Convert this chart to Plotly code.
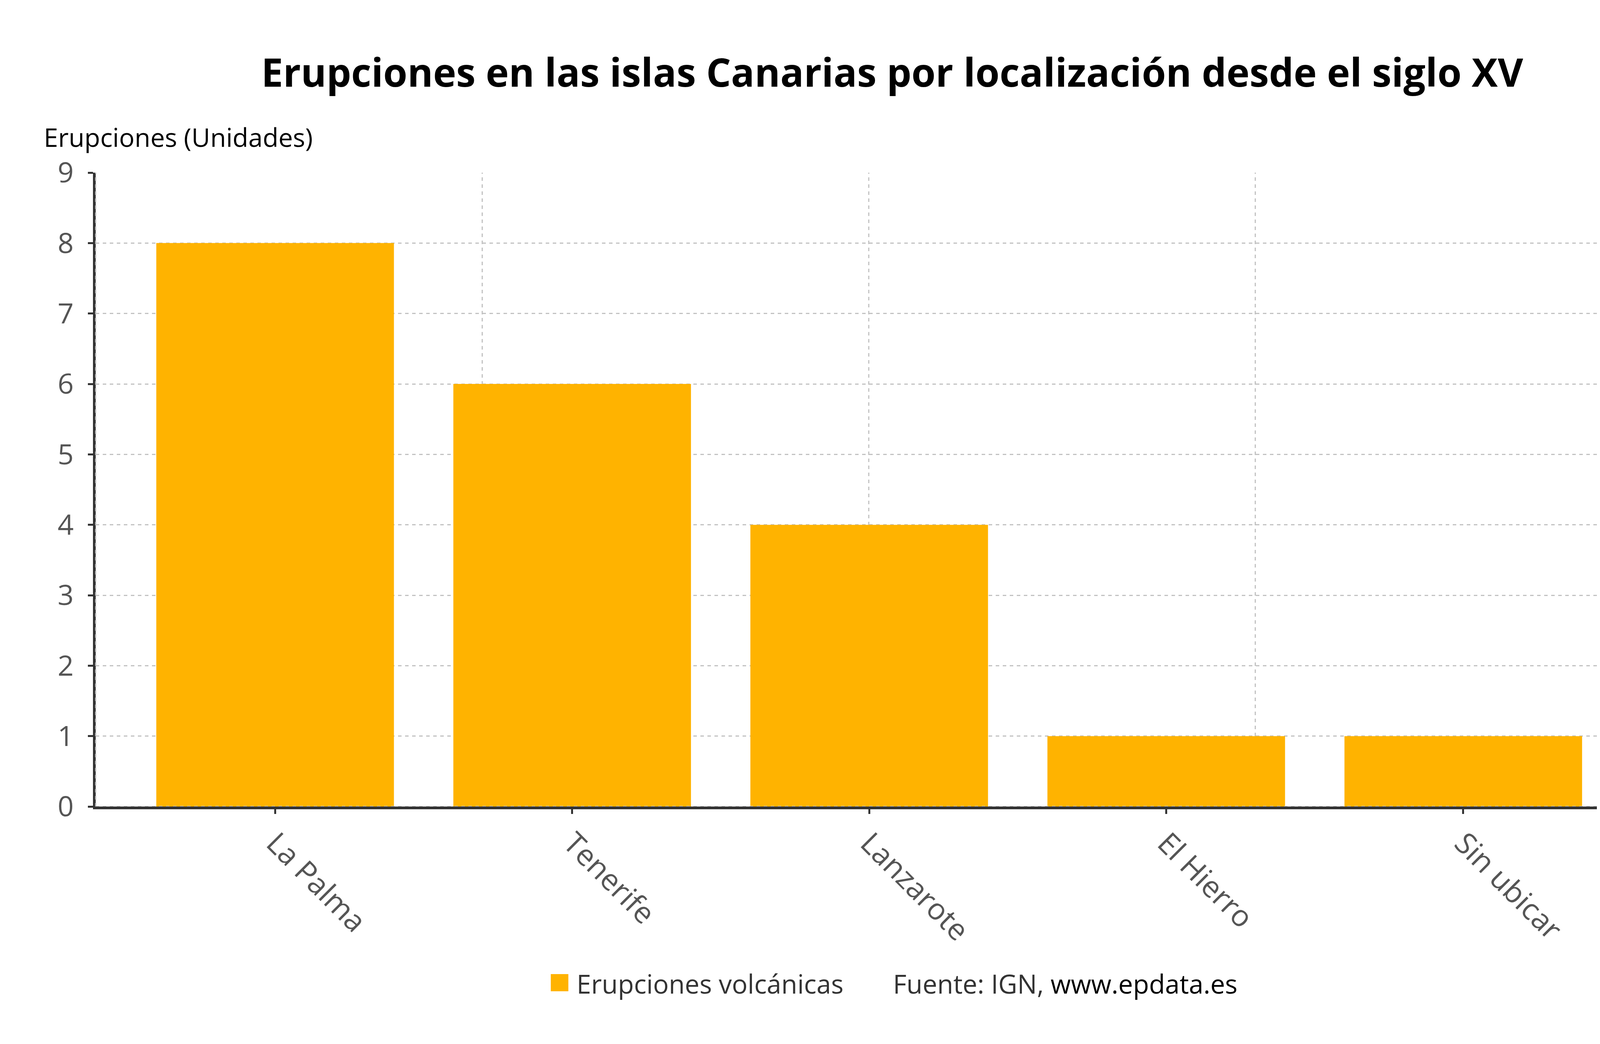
import plotly.graph_objects as go

# datos
islas = ["La Palma", "Tenerife", "Lanzarote", "El Hierro", "Sin ubicar"]
erupciones = [8, 6, 4, 1, 1]
y_ticks = [0, 1, 2, 3, 4, 5, 6, 7, 8, 9]

titulo = "Erupciones en las islas Canarias por localización desde el siglo XV"
titulo_y = "Erupciones (Unidades)"
serie = "Erupciones volcánicas"
fuente = "Fuente: IGN, "
web = "www.epdata.es"

W, H = 4552, 2673
L, R, T, B = 237, 357, 434, 616
FONT = "Open Sans"
NARANJA = "#FFB300"
GRIS = "#c2c2c2"
DASH = "9px,9px"


def px_x(x):
    return (x - L) / (W - L - R)


def px_y(y):
    return (H - B - y) / (H - T - B)


fig = go.Figure()
fig.add_trace(go.Bar(
    x=islas, y=erupciones, name=serie,
    marker=dict(color=NARANJA, line=dict(width=0)),
    showlegend=False,
))

# grid vertical: cuartos del area de dibujo, como en el original
for f in [0.0, 0.25, 0.5, 0.75, 1.0]:
    fig.add_shape(type="line", xref="x domain", yref="y domain",
                  x0=f, x1=f, y0=0, y1=1, layer="above" if f == 0 else "below",
                  line=dict(color=GRIS, width=3, dash=DASH))
fig.add_shape(type="line", xref="x domain", yref="y", x0=0, x1=1, y0=0, y1=0,
              layer="above", line=dict(color=GRIS, width=3, dash=DASH))

# leyenda a mano (el cuadro de plotly es demasiado pequeño)
fig.add_shape(type="rect", xref="paper", yref="paper",
              x0=px_x(1402), x1=px_x(1447), y0=px_y(2530), y1=px_y(2486),
              fillcolor=NARANJA, line=dict(width=0))
fig.add_annotation(xref="paper", yref="paper", x=px_x(1466), y=px_y(2510),
                   xanchor="left", yanchor="middle", showarrow=False,
                   text=serie, font=dict(family=FONT, size=67, color="#333333"))
fig.add_annotation(xref="paper", yref="paper", x=px_x(2276), y=px_y(2510),
                   xanchor="left", yanchor="middle", showarrow=False,
                   text=fuente + "<span style='color:#000000'>" + web + "</span>",
                   font=dict(family=FONT, size=67, color="#333333"))

# titulo del eje y, horizontal arriba
fig.add_annotation(xref="paper", yref="paper", x=px_x(102), y=px_y(342),
                   xanchor="left", yanchor="middle", showarrow=False,
                   text=titulo_y, font=dict(family=FONT, size=66, color="#000000"))

fig.update_layout(
    width=W, height=H,
    margin=dict(l=L, r=R, t=T, b=B, pad=0),
    paper_bgcolor="white", plot_bgcolor="white",
    font=dict(family=FONT, color="#555555"),
    bargap=0.2,
    title=dict(text="<b>" + titulo + "</b>", x=0.5, xanchor="center",
               y=1 - 179 / H, yanchor="middle", yref="container",
               font=dict(family=FONT, size=100, color="#000000")),
)
fig.update_xaxes(
    range=[-0.604, 4.601], showgrid=False, zeroline=False,
    showline=True, linecolor="#333333", linewidth=7,
    ticks="outside", ticklen=12, tickwidth=5, tickcolor="#333333",
    tickangle=45, tickfont=dict(family=FONT, size=76, color="#555555"),
)
fig.update_yaxes(
    range=[0, 9], tickvals=y_ticks, showgrid=True, gridcolor=GRIS,
    gridwidth=3, griddash=DASH, zeroline=False,
    showline=True, linecolor="#333333", linewidth=7,
    ticks="outside", ticklen=13, tickwidth=5, tickcolor="#333333",
    ticklabelstandoff=22, tickfont=dict(family=FONT, size=72, color="#555555"),
)

fig.write_html("out.html")
